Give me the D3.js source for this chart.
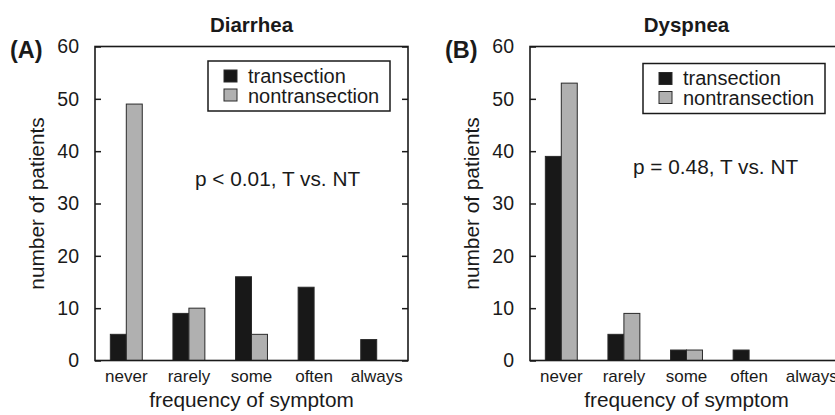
<!DOCTYPE html>
<html lang="en">
<head>
<meta charset="UTF-8">
<script src="https://cdn.jsdelivr.net/npm/d3@7"></script>
<style>
  body { margin: 0; background: #fff; }
  text { font-family: "Liberation Sans", Arial, sans-serif; fill: #1a1a1a; }
</style>
</head>
<body>
<script>
    const categories = ["never", "rarely", "some", "often", "always"];
    const groups = ["transection", "nontransection"];
    const diarrheaT = [5, 9, 16, 14, 4];
    const diarrheaNT = [49, 10, 5, 0, 0];
    const dyspneaT = [39, 5, 2, 2, 0];
    const dyspneaNT = [53, 9, 2, 0, 0];
    const yTicks = [0, 10, 20, 30, 40, 50, 60];

    const w = 835;
    const h = 415;
    const colors = ["#181818", "#b0b0b0"];

    const svg = d3.select("body")
                    .append("svg")
                    .attr("width", w)
                    .attr("height", h);

    //one panel per symptom
    const panels = [
        {letter: "(A)", title: "Diarrhea", t: diarrheaT, nt: diarrheaNT, left: 95, legendY: 61, pText: "p < 0.01, T vs. NT", pX: 195, pY: 186},
        {letter: "(B)", title: "Dyspnea", t: dyspneaT, nt: dyspneaNT, left: 530, legendY: 63.5, pText: "p = 0.48, T vs. NT", pX: 633, pY: 174}
    ];

    const plotW = 313;
    const plotTop = 46.5;
    const plotBottom = 360.5;

    panels.forEach(p => {
        const g = svg.append("g");
        const right = p.left + plotW;

        const xScale = d3.scaleBand()
                            .domain(categories)
                            .range([p.left, right])
                            .paddingInner(0.49)
                            .paddingOuter(0.245);

        const xSub = d3.scaleBand()
                        .domain(groups)
                        .range([0, xScale.bandwidth()]);

        const yScale = d3.scaleLinear()
                            .domain([0, 60])
                            .range([plotBottom, plotTop]);

        //bars
        const rows = categories.map((c, i) => ({cat: c, values: [p.t[i], p.nt[i]]}));
        g.selectAll(".grp")
            .data(rows)
            .enter()
            .append("g")
            .attr("transform", d => "translate(" + xScale(d.cat) + ",0)")
            .selectAll("rect")
            .data(d => d.values.map((v, k) => ({key: groups[k], v: v, k: k})).filter(e => e.v > 0))
            .enter()
            .append("rect")
            .attr("x", d => xSub(d.key))
            .attr("y", d => yScale(d.v))
            .attr("width", xSub.bandwidth())
            .attr("height", d => yScale(0) - yScale(d.v))
            .attr("fill", d => colors[d.k])
            .attr("stroke", "#2a2a2a")
            .attr("stroke-width", 1);

        //frame
        g.append("rect")
            .attr("x", p.left)
            .attr("y", plotTop)
            .attr("width", plotW)
            .attr("height", plotBottom - plotTop)
            .attr("fill", "none")
            .attr("stroke", "#1a1a1a")
            .attr("stroke-width", 1.6);

        //y axes, ticks inside
        const yAxis = d3.axisLeft(yScale).tickValues(yTicks).tickSize(-6).tickPadding(16);
        const yl = g.append("g")
                    .attr("transform", "translate(" + p.left + ",0)")
                    .call(yAxis);
        yl.select(".domain").remove();
        yl.selectAll("line").attr("stroke", "#1a1a1a").attr("stroke-width", 1.5);
        yl.selectAll("text").style("font-size", "19.5px").attr("fill", "#1a1a1a");

        const yr = g.append("g")
                    .attr("transform", "translate(" + right + ",0)")
                    .call(d3.axisRight(yScale).tickValues(yTicks).tickSize(-6).tickFormat(""));
        yr.select(".domain").remove();
        yr.selectAll("line").attr("stroke", "#1a1a1a").attr("stroke-width", 1.5);

        //x axis labels
        const xa = g.append("g")
                    .attr("transform", "translate(0," + plotBottom + ")")
                    .call(d3.axisBottom(xScale).tickSize(0).tickPadding(9));
        xa.select(".domain").remove();
        xa.selectAll("text").style("font-size", "17px").attr("fill", "#1a1a1a");

        //titles
        g.append("text")
            .attr("x", (p.left + right) / 2)
            .attr("y", 32)
            .attr("text-anchor", "middle")
            .style("font-size", "20.5px")
            .style("font-weight", "bold")
            .text(p.title);

        g.append("text")
            .attr("x", p.left - 85)
            .attr("y", 58)
            .style("font-size", "23.5px")
            .style("font-weight", "bold")
            .text(p.letter);

        g.append("text")
            .attr("x", (p.left + right) / 2)
            .attr("y", 407)
            .attr("text-anchor", "middle")
            .style("font-size", "20.8px")
            .text("frequency of symptom");

        g.append("text")
            .attr("transform", "translate(" + (p.left - 51.5) + "," + ((plotTop + plotBottom) / 2) + ") rotate(-90)")
            .attr("text-anchor", "middle")
            .style("font-size", "20.8px")
            .text("number of patients");

        g.append("text")
            .attr("x", p.pX)
            .attr("y", p.pY)
            .style("font-size", "20.8px")
            .text(p.pText);

        //legend
        const lg = g.append("g").attr("transform", "translate(" + (p.left + 113) + "," + p.legendY + ")");
        lg.append("rect")
            .attr("width", 182)
            .attr("height", 50)
            .attr("fill", "#fff")
            .attr("stroke", "#1a1a1a")
            .attr("stroke-width", 1.5);
        groups.forEach((name, k) => {
            lg.append("rect")
                .attr("x", 16)
                .attr("y", 9 + k * 19)
                .attr("width", 13)
                .attr("height", 12)
                .attr("fill", colors[k])
                .attr("stroke", "#2a2a2a")
                .attr("stroke-width", 1);
            lg.append("text")
                .attr("x", 40)
                .attr("y", 21.5 + k * 20)
                .style("font-size", "20px")
                .text(name);
        });
    });
</script>
</body>
</html>
